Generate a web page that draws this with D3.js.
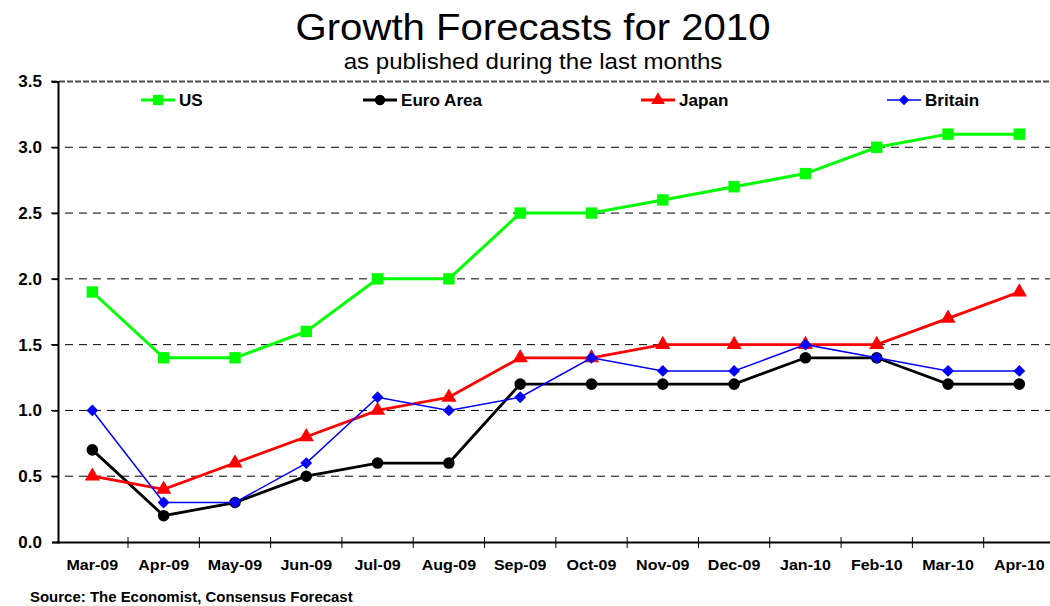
<!DOCTYPE html>
<html>
<head>
<meta charset="utf-8">
<script src="https://cdn.jsdelivr.net/npm/d3@7"></script>
<style>
  body { margin: 0; background: #fff; }
  svg { display: block; font-family: "Liberation Sans", Arial, sans-serif; }
</style>
</head>
<body>
<div id="chart"></div>
<script>
const months = ['Mar-09', 'Apr-09', 'May-09', 'Jun-09', 'Jul-09', 'Aug-09', 'Sep-09',
  'Oct-09', 'Nov-09', 'Dec-09', 'Jan-10', 'Feb-10', 'Mar-10', 'Apr-10'];
const usValues = [1.9, 1.4, 1.4, 1.6, 2.0, 2.0, 2.5, 2.5, 2.6, 2.7, 2.8, 3.0, 3.1, 3.1];
const euroValues = [0.7, 0.2, 0.3, 0.5, 0.6, 0.6, 1.2, 1.2, 1.2, 1.2, 1.4, 1.4, 1.2, 1.2];
const japanValues = [0.5, 0.4, 0.6, 0.8, 1.0, 1.1, 1.4, 1.4, 1.5, 1.5, 1.5, 1.5, 1.7, 1.9];
const britainValues = [1.0, 0.3, 0.3, 0.6, 1.1, 1.0, 1.1, 1.4, 1.3, 1.3, 1.5, 1.4, 1.3, 1.3];
const yTicks = [0, 0.5, 1.0, 1.5, 2.0, 2.5, 3.0, 3.5];

const series = [
  { name: 'US', values: usValues, color: '#00ff00', width: 3, symbol: d3.symbolSquare, size: 130, rot: 0, lx: 158 },
  { name: 'Euro Area', values: euroValues, color: '#000000', width: 2.8, symbol: d3.symbolCircle, size: 105, rot: 0, lx: 380 },
  { name: 'Japan', values: japanValues, color: '#ff0000', width: 2.8, symbol: d3.symbolTriangle, size: 100, rot: 0, lx: 658 },
  { name: 'Britain', values: britainValues, color: '#0000ff', width: 1.5, symbol: d3.symbolSquare, size: 70, rot: 45, lx: 904 }
];

const W = 1050, H = 606;
const plot = { left: 56.7, right: 1055, top: 81.5, bottom: 542 };
const stretch = 1.07;  // the original text is slightly wide

const svg = d3.select('#chart').append('svg').attr('width', W).attr('height', H);

function label(xp, yp, txt, size, weight, anchor) {
  return svg.append('text')
    .attr('transform', `translate(${xp},${yp}) scale(${stretch},1)`)
    .attr('text-anchor', anchor || 'start')
    .attr('font-size', size).attr('font-weight', weight || 'normal')
    .text(txt);
}

// titles
label(533, 40, 'Growth Forecasts for 2010', 37.5, 'normal', 'middle');
label(533, 69, 'as published during the last months', 22.5, 'normal', 'middle');

const x = d3.scaleBand().domain(months).range([plot.left, plot.right]);
const y = d3.scaleLinear().domain([0, 3.5]).range([plot.bottom, plot.top]);

// gridlines
svg.append('g').selectAll('line').data(yTicks.filter(d => d > 0)).join('line')
  .attr('x1', 51).attr('x2', W)
  .attr('y1', d => y(d)).attr('y2', d => y(d))
  .attr('stroke', '#000').attr('stroke-width', d => d === 3.5 ? 2 : 1)
  .attr('stroke-dasharray', d => d === 3.5 ? '6,2' : '8,6')
  .attr('stroke-opacity', d => d === 3.5 ? 0.7 : 1);

// y axis
const yAxis = svg.append('g').attr('transform', `translate(${plot.left + 1.3},0)`)
  .call(d3.axisLeft(y).tickValues(yTicks).tickFormat(d3.format('.1f')).tickSize(6));
yAxis.select('.domain').attr('stroke-width', 2);
yAxis.selectAll('.tick line').attr('stroke-width', 1.5);
yAxis.selectAll('text').attr('font-size', 17).attr('font-weight', 'bold')
  .attr('font-family', '"Liberation Sans", Arial, sans-serif').attr('x', -16).attr('fill', '#000');

// x axis
const xAxis = svg.append('g').attr('transform', `translate(0,${plot.bottom})`)
  .call(d3.axisBottom(x).tickSize(0).tickPadding(17));
xAxis.select('.domain').attr('stroke-width', 2);
xAxis.selectAll('text').attr('font-size', 15).attr('font-weight', 'bold')
  .attr('transform', `scale(${stretch},1)`)
  .attr('font-family', '"Liberation Sans", Arial, sans-serif').attr('fill', '#000');
svg.append('g').selectAll('line').data(months.slice(1)).join('line')
  .attr('x1', d => x(d)).attr('x2', d => x(d))
  .attr('y1', plot.bottom - 5).attr('y2', plot.bottom + 6)
  .attr('stroke', '#000').attr('stroke-width', 1);

// lines and markers
const line = d3.line().x((d, i) => x(months[i]) + x.bandwidth() / 2).y(d => y(d));

series.forEach(s => {
  svg.append('path').datum(s.values).attr('d', line)
    .attr('fill', 'none').attr('stroke', s.color).attr('stroke-width', s.width);
  svg.append('g').selectAll('path').data(s.values).join('path')
    .attr('d', d3.symbol().type(s.symbol).size(s.size))
    .attr('transform', (d, i) => `translate(${x(months[i]) + x.bandwidth() / 2},${y(d)}) rotate(${s.rot})`)
    .attr('fill', s.color);
});

// legend
const legendY = 100;
series.forEach(s => {
  svg.append('line').attr('x1', s.lx - 17).attr('x2', s.lx + 17)
    .attr('y1', legendY).attr('y2', legendY)
    .attr('stroke', s.color).attr('stroke-width', s.width);
  svg.append('path').attr('d', d3.symbol().type(s.symbol).size(s.size * 0.8))
    .attr('transform', `translate(${s.lx},${legendY}) rotate(${s.rot})`).attr('fill', s.color);
  label(s.lx + 21, legendY + 6, s.name, 16, 'bold');
});

// source
label(30, 602, 'Source: The Economist, Consensus Forecast', 14, 'bold');
</script>
</body>
</html>
